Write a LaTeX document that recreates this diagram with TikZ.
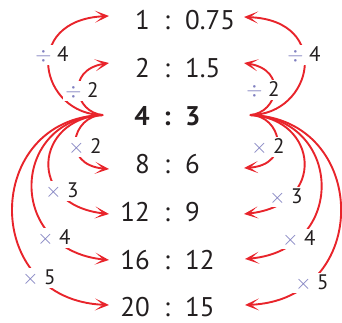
\documentclass[tikz,border=0pt]{standalone}
\usepackage{fontspec}
\setmainfont{PT Sans}
\usetikzlibrary{arrows.meta}
\definecolor{arrred}{HTML}{E8242B}
\definecolor{lav}{HTML}{7F7FC0}
\definecolor{ink}{HTML}{231F20}
\newcommand{\mulsym}{\textcolor{lav}{$\times$}}
\newcommand{\divsym}{\textcolor{lav}{$\div$}}
\begin{document}
\begin{tikzpicture}[x=1pt,y=-1pt,
  num/.style={inner sep=0pt, text=ink, font=\fontsize{27}{27}\selectfont},
  lbl/.style={fill=white, inner sep=2pt, text=ink, font=\fontsize{21}{21}\selectfont},
  arr/.style={draw=arrred, line width=1.9pt, -{Stealth[length=14pt,width=12pt,inset=8pt]}}]
\useasboundingbox (0,0) rectangle (342,322);
% rows
\node[num, anchor=base east] (l1) at (150,29) {1};
\node[num, anchor=base] (c1) at (167,29) {:};
\node[num, anchor=base west] (r1) at (185,29) {0.75};
\node[num, anchor=base east] (l2) at (150,77) {2};
\node[num, anchor=base] (c2) at (167,77) {:};
\node[num, anchor=base west] (r2) at (185,77) {1.5};
\node[num, anchor=base east] (l3) at (150,125) {\bfseries 4};
\node[num, anchor=base] (c3) at (167,125) {\bfseries :};
\node[num, anchor=base west] (r3) at (185,125) {\bfseries 3};
\node[num, anchor=base east] (l4) at (150,173) {8};
\node[num, anchor=base] (c4) at (167,173) {:};
\node[num, anchor=base west] (r4) at (185,173) {6};
\node[num, anchor=base east] (l5) at (150,221) {12};
\node[num, anchor=base] (c5) at (167,221) {:};
\node[num, anchor=base west] (r5) at (185,221) {9};
\node[num, anchor=base east] (l6) at (150,269) {16};
\node[num, anchor=base] (c6) at (167,269) {:};
\node[num, anchor=base west] (r6) at (185,269) {12};
\node[num, anchor=base east] (l7) at (150,316) {20};
\node[num, anchor=base] (c7) at (167,316) {:};
\node[num, anchor=base west] (r7) at (185,316) {15};
% hubs and tips
\coordinate (hl) at (103,115);
\coordinate (hr) at (250,115);
\coordinate (tl1) at (109,16);
\coordinate (tl2) at (109,63);
\coordinate (tl4) at (109,169);
\coordinate (tl5) at (109,214);
\coordinate (tl6) at (109,260);
\coordinate (tl7) at (109,305);
\coordinate (tr1) at (244,17);
\coordinate (tr2) at (244,63);
\coordinate (tr4) at (244,168);
\coordinate (tr5) at (244,214);
\coordinate (tr6) at (245,259);
\coordinate (tr7) at (245,305);
% left arrows
\draw[arr] (hl) .. controls (40,115) and (20,20) .. (tl1);
\draw[arr] (hl) .. controls (75,113) and (65,70) .. (tl2);
\draw[arr] (hl) .. controls (72,115) and (60,165) .. (tl4);
\draw[arr] (hl) .. controls (35,118) and (25,205) .. (tl5);
\draw[arr] (hl) .. controls (10,118) and (5,250) .. (tl6);
\draw[arr] (hl) .. controls (-17,118) and (-20,300) .. (tl7);
% right arrows
\draw[arr] (hr) .. controls (313,115) and (333,20) .. (tr1);
\draw[arr] (hr) .. controls (278,113) and (288,70) .. (tr2);
\draw[arr] (hr) .. controls (281,115) and (293,165) .. (tr4);
\draw[arr] (hr) .. controls (318,118) and (328,205) .. (tr5);
\draw[arr] (hr) .. controls (343,118) and (348,250) .. (tr6);
\draw[arr] (hr) .. controls (370,118) and (373,300) .. (tr7);
% labels left
\node[lbl] (ld4) at (52,55) {\divsym\ 4};
\node[lbl] (ld2) at (82,91) {\divsym\ 2};
\node[lbl] (lm2) at (85,147) {\mulsym\ 2};
\node[lbl] (lm3) at (62,191) {\mulsym\ 3};
\node[lbl] (lm4) at (54,238) {\mulsym\ 4};
\node[lbl] (lm5) at (39,278) {\mulsym\ 5};
% labels right
\node[lbl] (rd4) at (304,55) {\divsym\ 4};
\node[lbl] (rd2) at (263,90) {\divsym\ 2};
\node[lbl] (rm2) at (268,147) {\mulsym\ 2};
\node[lbl] (rm3) at (286,197) {\mulsym\ 3};
\node[lbl] (rm4) at (299,239) {\mulsym\ 4};
\node[lbl] (rm5) at (312,283) {\mulsym\ 5};
\end{tikzpicture}
\end{document}
